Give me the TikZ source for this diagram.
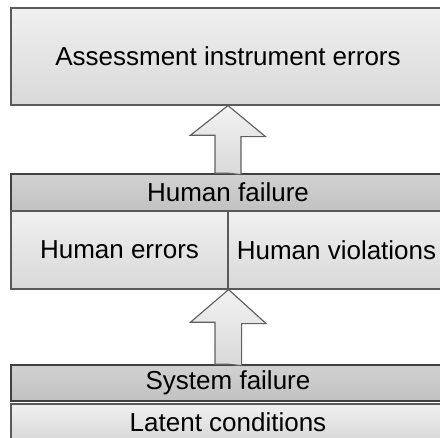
\documentclass[tikz,border=0pt]{standalone}
\usepackage{fontspec}
\setmainfont{Liberation Sans}
\usetikzlibrary{calc}
\usetikzlibrary{shadows}

\definecolor{boxline}{HTML}{5A5A5A}
\definecolor{barline}{HTML}{404040}
\definecolor{arrowline}{HTML}{606060}
\tikzset{
    layer/.style={draw=boxline,line width=1.2pt,top color=white!94!black,bottom color=white!85!black,
        font=\fontsize{26}{30}\selectfont,inner sep=0pt,
        drop shadow={shadow xshift=1pt,shadow yshift=-1.5pt,fill=black!10,opacity=1}},
    bar/.style={layer,draw=barline,line width=1.6pt,top color=white!82!black,bottom color=white!76!black},
    blockarrow/.style={draw=arrowline,line width=1.15pt,top color=white!95!black,bottom color=white!85!black},
}

\begin{document}
\begin{tikzpicture}[x=1pt,y=1pt]
\useasboundingbox (0,0) rectangle (440,438);
% layers, from top to bottom
\node[layer,minimum width=434pt,minimum height=97pt] (aie) at (228,381.5) {Assessment instrument errors};
\node[bar,minimum width=434pt,minimum height=37pt] (hf) at (228,245.5) {Human failure};
\node[layer,minimum width=217pt,minimum height=78pt] (he) at (119.5,188) {Human errors};
\node[layer,minimum width=217pt,minimum height=78pt] (hv) at (336.5,188) {Human violations};
\node[bar,minimum width=434pt,minimum height=36pt] (sf) at (228,55) {System failure};
\node[layer,minimum width=434pt,minimum height=36pt] (lc) at (228,16) {Latent conditions};
% block arrows
\draw[blockarrow] (hf.north) -- ++(-13,0) -- ++(0,38) -- ++(-24.5,0) -- (aie.south)
    -- ++(37.5,-31) -- ++(-24.5,0) -- ++(0,-38) -- cycle;
\draw[blockarrow] (sf.north) -- ++(-13,0) -- ++(0,42) -- ++(-24.5,0) -- (he.south east)
    -- ++(37.5,-34) -- ++(-24.5,0) -- ++(0,-42) -- cycle;
\end{tikzpicture}
\end{document}
